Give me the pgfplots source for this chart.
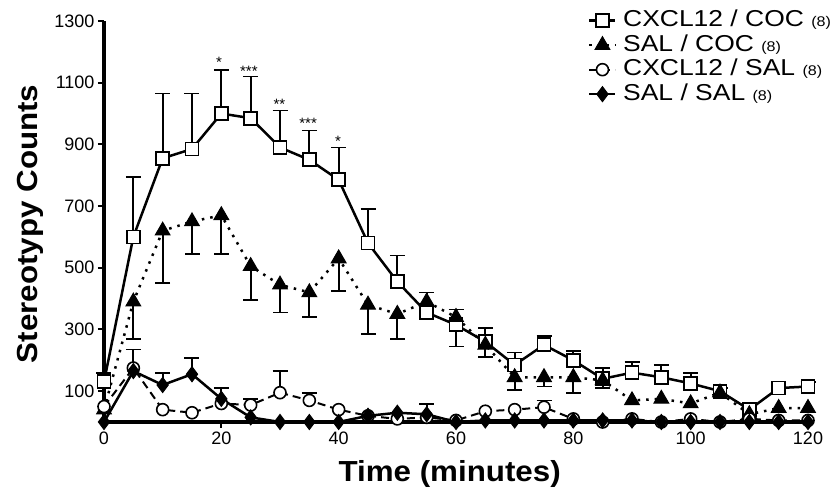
\documentclass[border=0pt]{standalone}
\usepackage{pgfplots}
\usepackage{pgfplotstable}
\pgfplotsset{compat=1.18}
\usepackage{fontspec}
\setmainfont{Liberation Sans}
\newfontfamily\legfont{Liberation Sans}[FakeStretch=1.15]
\newfontfamily\labfont{Liberation Sans}[FakeStretch=1.08]

% CXCL12 / COC : mean, upper SEM
\pgfplotstableread{
t m e
0 130 30
5 600 195
10 855 210
15 885 180
20 1000 140
25 985 135
30 890 120
35 850 95
40 785 105
45 580 110
50 455 85
55 355 65
60 315 50
65 260 45
70 185 40
75 250 30
80 200 30
85 140 35
90 160 35
95 145 40
100 125 35
105 100 10
110 40 5
115 110 5
120 115 15
}\cxcoc

% SAL / COC : mean
\pgfplotstableread{
t m
0 40
5 390
10 620
15 650
20 670
25 505
30 445
35 420
40 530
45 380
50 350
55 390
60 340
65 250
70 145
75 145
80 145
85 135
90 70
95 75
100 60
105 95
110 25
115 45
120 45
}\salcoc
% SAL / COC : lower SEM
\pgfplotstableread{
t m e
5 390 120
10 620 170
15 650 105
20 670 125
25 505 110
30 445 90
35 420 80
40 530 105
45 380 95
50 350 80
60 340 95
65 250 40
70 145 40
75 145 30
80 145 50
85 135 25
}\salcocerr

% CXCL12 / SAL
\pgfplotstableread{
t m
0 50
5 175
10 40
15 30
20 60
25 55
30 95
35 70
40 40
45 20
50 10
55 15
60 5
65 35
70 40
75 48
80 10
85 0
90 10
95 0
100 10
105 0
110 10
115 5
120 5
}\cxsal
\pgfplotstableread{
t m e
5 175 60
25 55 20
30 95 70
35 70 25
75 48 22
}\cxsalerr

% SAL / SAL
\pgfplotstableread{
t m
0 0
5 165
10 120
15 155
20 75
25 15
30 0
35 0
40 0
45 20
50 30
55 25
60 0
65 5
70 5
75 5
80 5
85 5
90 5
95 0
100 0
105 0
110 0
115 0
120 0
}\salsal
\pgfplotstableread{
t m e
10 120 40
15 155 53
20 75 35
55 25 33
}\salsalerr

\begin{document}
\begin{tikzpicture}
\begin{axis}[
name=ax,
scale only axis,
width=704pt, height=401pt,
xmin=0, xmax=120,
ymin=0, ymax=1300,
clip=false,
axis x line=bottom, axis y line=left,
axis line style={-, line width=3.2pt},
tick align=outside,
major tick length=6pt,
tick style={line width=2pt, black},
xtick={0,20,...,120},
ytick={100,300,...,1300},
/pgf/number format/assume math mode=true,
/pgf/number format/1000 sep={},
tick label style={font=\fontsize{18}{18}\selectfont},
xlabel={\labfont\bfseries\fontsize{29}{29}\selectfont Time (minutes)},
xlabel style={at={(axis description cs:0.491,-0.13)}, anchor=center},
ylabel={\labfont\bfseries\fontsize{29}{29}\selectfont Stereotypy Counts},
ylabel style={at={(axis description cs:-0.105,0.494)}, anchor=center},
legend style={draw=none, fill=none, at={(rel axis cs:0.6875,1.03)}, anchor=north west,
  font=\legfont\fontsize{23}{23}\selectfont, inner sep=0pt, row sep=1.5pt,
  nodes={inner sep=0.5pt, text height=17pt, text depth=5pt},
  /tikz/every odd column/.append style={column sep=6pt}},
legend cell align=left,
legend image code/.code={\draw[mark repeat=2,mark phase=2,#1] plot coordinates {(0pt,0pt) (13pt,0pt) (26pt,0pt)};},
every error bar/.style={line width=1.8pt, black},
]
% CXCL12 / COC
\addplot[forget plot, black, only marks, mark=none,
  error bars/.cd, y dir=plus, y explicit,
  error mark options={rotate=90, mark size=7.5pt, line width=1.8pt, black}]
  table[x=t, y=m, y error=e] {\cxcoc};
\addplot[black, line width=2.5pt, mark=square*, mark size=6.5pt,
  mark options={fill=white, line width=1.8pt, solid}]
  table[x=t, y=m] {\cxcoc};
\addlegendentry{CXCL12 / COC {\fontsize{14}{14}\selectfont(8)}}
% SAL / COC
\addplot[forget plot, black, only marks, mark=none,
  error bars/.cd, y dir=minus, y explicit,
  error mark options={rotate=90, mark size=7.5pt, line width=1.8pt, black}]
  table[x=t, y=m, y error=e] {\salcocerr};
\addplot[black, line width=2.5pt, dash pattern=on 2.5pt off 6pt, mark=triangle*, mark size=8.5pt,
  mark options={fill=black, line width=1pt, solid}]
  table[x=t, y=m] {\salcoc};
\addlegendentry{SAL / COC {\fontsize{14}{14}\selectfont(8)}}
% CXCL12 / SAL
\addplot[forget plot, black, only marks, mark=none,
  error bars/.cd, y dir=plus, y explicit,
  error mark options={rotate=90, mark size=7.5pt, line width=1.8pt, black}]
  table[x=t, y=m, y error=e] {\cxsalerr};
\addplot[black, line width=2pt, dash pattern=on 8pt off 5pt, mark=*, mark size=6pt,
  mark options={fill=white, line width=1.6pt, solid}]
  table[x=t, y=m] {\cxsal};
\addlegendentry{CXCL12 / SAL {\fontsize{14}{14}\selectfont(8)}}
% SAL / SAL
\addplot[forget plot, black, only marks, mark=none,
  error bars/.cd, y dir=plus, y explicit,
  error mark options={rotate=90, mark size=7.5pt, line width=1.8pt, black}]
  table[x=t, y=m, y error=e] {\salsalerr};
\addplot[black, line width=2.5pt, mark=diamond*, mark size=7.5pt,
  mark options={fill=black, line width=1pt, solid}]
  table[x=t, y=m] {\salsal};
\addlegendentry{SAL / SAL {\fontsize{14}{14}\selectfont(8)}}
% significance marks
\node[anchor=base, font=\fontsize{15}{15}\selectfont] at (axis cs:19.6,1148) {*};
\node[anchor=base, font=\fontsize{15}{15}\selectfont] at (axis cs:24.7,1121) {***};
\node[anchor=base, font=\fontsize{15}{15}\selectfont] at (axis cs:29.9,1014) {**};
\node[anchor=base, font=\fontsize{15}{15}\selectfont] at (axis cs:34.8,951) {***};
\node[anchor=base, font=\fontsize{15}{15}\selectfont] at (axis cs:39.9,894) {*};
\end{axis}
\pgfresetboundingbox
\path[use as bounding box] (ax.south west) ++(-104pt,-72pt) rectangle ++(832pt,494pt);
\end{tikzpicture}
\end{document}
